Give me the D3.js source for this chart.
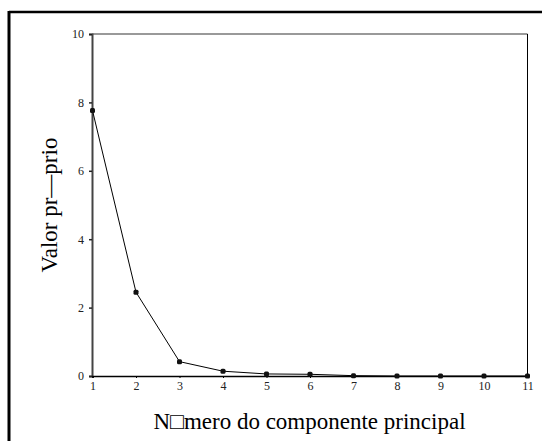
<!DOCTYPE html>
<html><head><meta charset="utf-8">
<script src="https://cdn.jsdelivr.net/npm/d3@7"></script>
<style>body{margin:0;background:#fff}svg{display:block}</style>
</head><body>
<script>
const components = [1,2,3,4,5,6,7,8,9,10,11];
const eigenvalues = [7.76,2.45,0.42,0.14,0.06,0.05,0.01,0,0,0,0];
const yTicks = [0,2,4,6,8,10];
const xLabel = "N\u25A1mero do componente principal";
const yLabel = "Valor pr\u2014prio";

const W=542,H=441;
const FONT='"Liberation Serif"';
const svg=d3.select("body").append("svg").attr("width",W).attr("height",H);
svg.append("line").attr("x1",9).attr("x2",W).attr("y1",12).attr("y2",12).attr("stroke","#000").attr("stroke-width",2.5);
svg.append("line").attr("x1",9).attr("x2",9).attr("y1",11).attr("y2",H).attr("stroke","#000").attr("stroke-width",3);

const x=d3.scaleLinear().domain([1,11]).range([92.5,527.5]);
const y=d3.scaleLinear().domain([0,10]).range([376,34]);

svg.append("line").attr("x1",92).attr("x2",527.5).attr("y1",34).attr("y2",34).attr("stroke","#777").attr("stroke-width",1.5);
svg.append("line").attr("x1",527.5).attr("x2",527.5).attr("y1",34).attr("y2",376).attr("stroke","#000").attr("stroke-width",1);

const ya=svg.append("g").attr("transform","translate(92,0)")
  .call(d3.axisLeft(y).tickValues(yTicks).tickSize(3).tickPadding(5).tickFormat(d3.format("d")));
ya.select(".domain").attr("stroke","#444").attr("stroke-width",2);
ya.selectAll("text").style("font-family",FONT).attr("font-size",12).attr("fill","#222");
ya.selectAll(".tick line").attr("stroke","#222").attr("stroke-width",1.5);

const xa=svg.append("g").attr("transform","translate(0,376)")
  .call(d3.axisBottom(x).tickValues(components).tickSize(2).tickPadding(3).tickFormat(d3.format("d")));
xa.select(".domain").attr("stroke","#000").attr("stroke-width",1.5);
xa.selectAll("text").style("font-family",FONT).attr("font-size",12).attr("fill","#222");
xa.selectAll(".tick line").attr("stroke","#000");

const data=components.map((c,i)=>({c,v:eigenvalues[i]}));
svg.append("path").datum(data).attr("fill","none").attr("stroke","#000").attr("stroke-width",1)
  .attr("d",d3.line().x(d=>x(d.c)).y(d=>y(d.v)));
svg.selectAll("rect.pt").data(data).join("rect").attr("class","pt")
  .attr("x",d=>x(d.c)-2.5).attr("y",d=>y(d.v)-2.5).attr("width",5).attr("height",5)
  .attr("rx",1.5).attr("fill","#111");

svg.append("text").attr("x",309.5).attr("y",429).attr("text-anchor","middle")
  .style("font-family",FONT).attr("font-size",23).text(xLabel);
svg.append("text").attr("transform","translate(57,205) rotate(-90)").attr("text-anchor","middle")
  .style("font-family",FONT).attr("font-size",23).text(yLabel);
</script>
</body></html>
